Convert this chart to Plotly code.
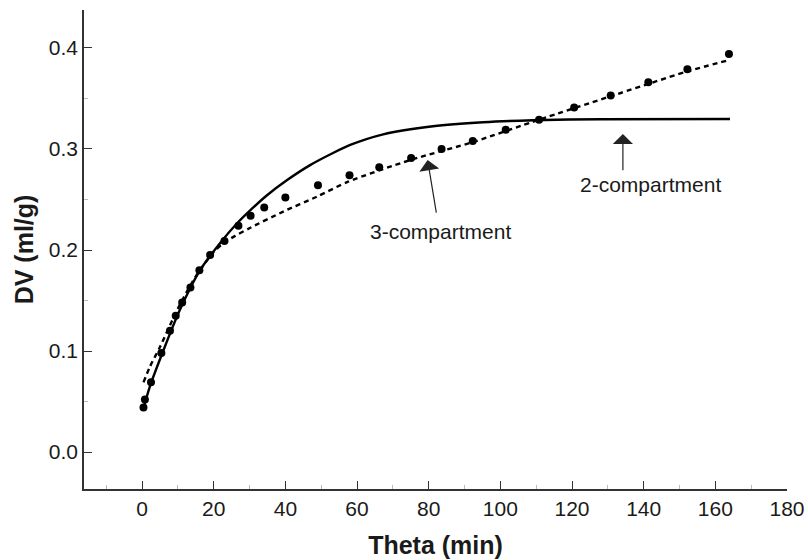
import plotly.graph_objects as go

# Observed data (filled circles)
t_obs = [0.4, 0.8, 2.5, 5.4, 7.8, 9.4, 11.2, 13.5, 16.0, 19.0, 23.0, 26.9, 30.3, 34.1,
         40.0, 49.1, 57.9, 66.2, 75.1, 83.6, 92.3, 101.5, 110.8, 120.6, 130.8, 141.3,
         152.2, 163.8]
dv_obs = [0.044, 0.052, 0.069, 0.098, 0.120, 0.135, 0.148, 0.163, 0.180, 0.195, 0.209,
          0.224, 0.234, 0.242, 0.252, 0.264, 0.274, 0.282, 0.291, 0.300, 0.308, 0.319,
          0.329, 0.341, 0.353, 0.366, 0.379, 0.394]

# 2-compartment fit (solid line)
t_two = [0.3, 2.2, 5.9, 10.6, 16.2, 21.8, 26.4, 30.1, 34.8, 40.4, 46.9, 53.3, 58.1,
         67.3, 81.2, 95.2, 109.1, 127.8, 164.1]
dv_two = [0.042, 0.065, 0.100, 0.141, 0.180, 0.207, 0.226, 0.239, 0.254, 0.269, 0.284,
          0.296, 0.304, 0.3145, 0.3225, 0.3265, 0.3285, 0.3295, 0.3297]

# 3-compartment fit (dotted line)
t_three = [0.4, 2.2, 5.0, 10.0, 15.0, 20.0, 22.6, 26.0, 30.1, 39.4, 48.8, 57.5, 74.8,
           92.5, 110.8, 130.6, 152.0, 163.8]
dv_three = [0.069, 0.0845, 0.104, 0.142, 0.174, 0.198, 0.2065, 0.214, 0.2218, 0.238,
            0.2528, 0.2676, 0.289, 0.307, 0.329, 0.352, 0.3766, 0.388]

x_ticks = [0, 20, 40, 60, 80, 100, 120, 140, 160, 180]
y_ticks = [0.0, 0.1, 0.2, 0.3, 0.4]

FONT = "Liberation Sans, Arial, sans-serif"
INK = "#1a1a1a"

fig = go.Figure()
fig.add_trace(go.Scatter(x=t_two, y=dv_two, mode="lines",
                         line=dict(color="black", width=2.4, shape="spline", smoothing=0.7),
                         hoverinfo="skip", name="2-compartment"))
fig.add_trace(go.Scatter(x=t_three, y=dv_three, mode="lines",
                         line=dict(color="black", width=2.4, dash="5px,4px",
                                   shape="spline", smoothing=0.7),
                         hoverinfo="skip", name="3-compartment"))
fig.add_trace(go.Scatter(x=t_obs, y=dv_obs, mode="markers",
                         marker=dict(color="black", size=8), name="data"))

axis_common = dict(showgrid=False, zeroline=False, showline=True, linecolor="#333",
                   linewidth=1.5, ticks="inside", ticklen=8, tickwidth=1.2, tickcolor="#333",
                   automargin=False,
                   tickfont=dict(family=FONT, size=21, color=INK))

fig.update_xaxes(range=[-16.2, 180], tickmode="array", tickvals=x_ticks,
                 ticktext=[str(v) for v in x_ticks],
                 minor=dict(ticks="inside", ticklen=4, tickcolor="#bbb", dtick=10, tick0=0),
                 title=dict(text="<b>Theta (min)</b>", font=dict(family=FONT, size=25, color=INK),
                            standoff=18),
                 **axis_common)
fig.update_yaxes(range=[-0.0366, 0.4376], tickmode="array", tickvals=y_ticks,
                 ticktext=["%.1f" % v for v in y_ticks],
                 minor=dict(ticks="inside", ticklen=4, tickcolor="#bbb", dtick=0.05, tick0=0),
                 title=dict(text="<b>DV (ml/g)</b>", font=dict(family=FONT, size=25, color=INK),
                            standoff=8),
                 **axis_common)

arrow = dict(showarrow=True, arrowhead=1, arrowsize=2.8, arrowwidth=1.2, arrowcolor="#222",
             axref="x", ayref="y", text="", standoff=0, startstandoff=0)
fig.add_annotation(x=79.7, y=0.289, ax=82.2, ay=0.2356, **arrow)
fig.add_annotation(x=134.2, y=0.3149, ax=134.2, ay=0.2775, **arrow)
fig.add_annotation(x=83.2, y=0.218, text="3-compartment", showarrow=False,
                   font=dict(family=FONT, size=21, color=INK))
fig.add_annotation(x=142.0, y=0.2644, text="2-compartment", showarrow=False,
                   font=dict(family=FONT, size=21, color=INK))

fig.update_layout(width=808, height=560, margin=dict(l=84, r=21, t=10, b=71),
                  paper_bgcolor="white", plot_bgcolor="white", showlegend=False)

fig.write_html("out.html")
